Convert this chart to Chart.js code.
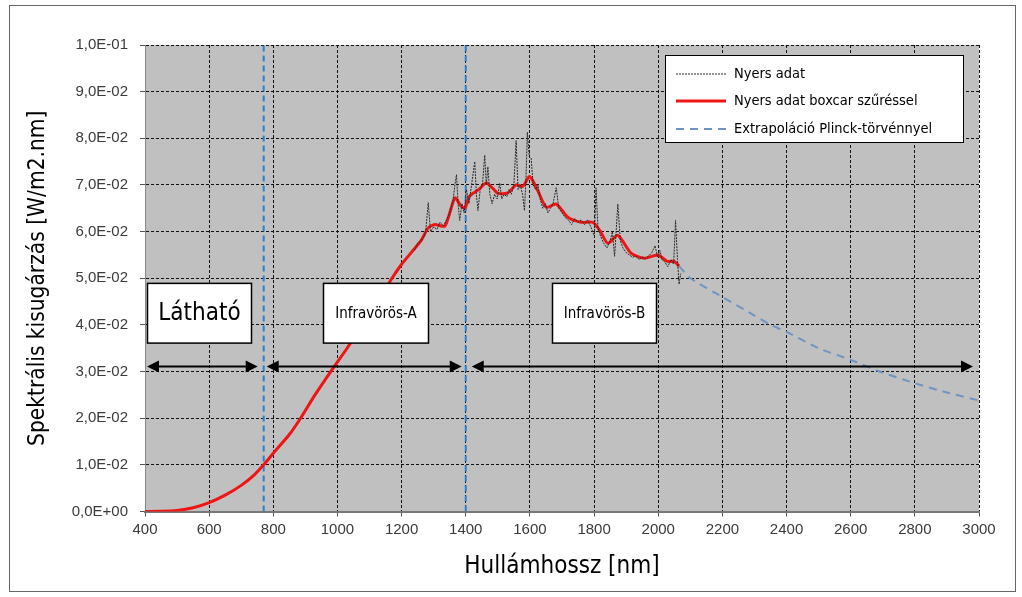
<!DOCTYPE html>
<html>
<head>
<meta charset="utf-8">
<script src="https://cdn.jsdelivr.net/npm/chart.js@4/dist/chart.umd.min.js"></script>
<style>
html,body{margin:0;padding:0;background:#fff;}
#wrap{position:relative;width:1022px;height:597px;}
</style>
</head>
<body>
<div id="wrap"><canvas id="c" width="1022" height="597"></canvas></div>
<script>
// ---- data ----
const rawNm = [1240,1250,1260,1270,1275,1283,1290,1300,1310,1320,1330,1340,1350,1360,1366,1371,1376,1381,1388,1395,1402,1410,1418,1428,1433,1438,1445,1452,1459,1464,1469,1475,1482,1490,1498,1506,1512,1520,1528,1535,1542,1550,1557,1563,1570,1577,1583,1588,1592,1598,1604,1610,1618,1625,1632,1640,1648,1656,1664,1672,1682,1690,1700,1710,1720,1730,1740,1750,1760,1770,1780,1790,1801,1806,1812,1820,1830,1840,1850,1857,1864,1874,1882,1890,1900,1910,1920,1930,1940,1950,1960,1970,1980,1990,1998,2005,2012,2020,2030,2040,2048,2054,2060,2065,2070];
const rawVal = [0.0560,0.0575,0.0580,0.0590,0.0600,0.0662,0.0600,0.0610,0.0605,0.0620,0.0612,0.0625,0.0640,0.0665,0.0700,0.0722,0.0660,0.0624,0.0660,0.0640,0.0690,0.0660,0.0700,0.0750,0.0680,0.0645,0.0690,0.0700,0.0764,0.0700,0.0739,0.0680,0.0660,0.0680,0.0670,0.0704,0.0670,0.0680,0.0675,0.0690,0.0680,0.0700,0.0795,0.0690,0.0700,0.0680,0.0645,0.0720,0.0813,0.0760,0.0757,0.0700,0.0690,0.0700,0.0670,0.0650,0.0660,0.0640,0.0650,0.0660,0.0694,0.0650,0.0640,0.0630,0.0625,0.0615,0.0628,0.0620,0.0625,0.0615,0.0625,0.0610,0.0590,0.0694,0.0610,0.0590,0.0575,0.0565,0.0580,0.0600,0.0547,0.0659,0.0580,0.0565,0.0555,0.0550,0.0545,0.0548,0.0540,0.0545,0.0542,0.0548,0.0555,0.0570,0.0545,0.0560,0.0540,0.0535,0.0525,0.0540,0.0530,0.0624,0.0540,0.0487,0.0510];

const smoothNm = [400,450,500,550,600,650,700,740,770,800,850,885,930,979,1030,1078,1125,1170,1200,1230,1260,1283,1304,1335,1366,1385,1397,1412,1440,1464,1485,1500,1531,1557,1578,1599,1625,1651,1682,1718,1759,1796,1820,1843,1874,1915,1956,1998,2029,2050,2065];
const smoothVal = [0,0.00003,0.0002,0.0008,0.0019,0.0035,0.0056,0.0078,0.0100,0.0125,0.0165,0.0200,0.0250,0.0300,0.0350,0.0400,0.0450,0.0500,0.0530,0.0555,0.0580,0.0608,0.0615,0.0612,0.0672,0.0655,0.0650,0.0676,0.0690,0.0704,0.0692,0.0682,0.0683,0.0700,0.0697,0.0718,0.0687,0.0652,0.0659,0.0631,0.0620,0.0620,0.0600,0.0575,0.0592,0.0554,0.0543,0.0550,0.0536,0.0536,0.0526];

const extrapNm = [2065,2100,2200,2300,2350,2400,2500,2600,2690,2800,2900,3000];
const extrapVal = [0.0526,0.0500,0.0460,0.0420,0.0400,0.0385,0.0350,0.0325,0.0300,0.0275,0.0255,0.0238];

const seriesNames = ['Nyers adat','Nyers adat boxcar szűréssel','Extrapoláció Plinck-törvénnyel'];
const regionBounds = [400, 770, 1400, 3000];   // nm
const regionLabels = ['Látható','Infravörös-A','Infravörös-B'];
const arrowLevel = 0.0312;
const xTicks = [400,600,800,1000,1200,1400,1600,1800,2000,2200,2400,2600,2800,3000];
const yTickLabels = ['0,0E+00','1,0E-02','2,0E-02','3,0E-02','4,0E-02','5,0E-02','6,0E-02','7,0E-02','8,0E-02','9,0E-02','1,0E-01'];
const xTitle = 'Hullámhossz [nm]';
const yTitle = 'Spektrális kisugárzás [W/m2.nm]';

const pts = (xs, ys) => xs.map((x, i) => ({x: x, y: ys[i]}));

// ---- plugin: background, boxes, arrows, legend, frame ----
const COND = "'DejaVu Sans Condensed','Liberation Sans Narrow','DejaVu Sans',sans-serif";
const boxes = [
  {x0: 406, x1: 730, font: '24px ' + COND},
  {x0: 954, x1: 1281, font: '15px ' + COND},
  {x0: 1669, x1: 1993, font: '15px ' + COND}
];
const deco = {
  id: 'deco',
  beforeDraw(chart) {
    const {ctx, chartArea: a} = chart;
    ctx.save();
    ctx.fillStyle = '#fff';
    ctx.fillRect(0, 0, chart.width, chart.height);
    ctx.fillStyle = '#c0c0c0';
    ctx.fillRect(a.left, a.top, a.right - a.left, a.bottom - a.top);
    ctx.strokeStyle = '#666';
    ctx.lineWidth = 1;
    ctx.strokeRect(9.5, 5.5, 1006, 586);
    ctx.restore();
  },
  afterDatasetsDraw(chart) {
    const {ctx, scales: {x, y}} = chart;
    ctx.save();
    const by0 = y.getPixelForValue(0.0489), by1 = y.getPixelForValue(0.0361);
    boxes.forEach((b, i) => {
      const px0 = Math.round(x.getPixelForValue(b.x0)) + 0.5, px1 = Math.round(x.getPixelForValue(b.x1)) + 0.5;
      ctx.fillStyle = '#fff';
      ctx.fillRect(px0, by0, px1 - px0, by1 - by0);
      ctx.strokeStyle = '#000';
      ctx.lineWidth = 1.5;
      ctx.strokeRect(px0, by0, px1 - px0, by1 - by0);
      ctx.fillStyle = '#000';
      ctx.font = b.font;
      ctx.textAlign = 'center';
      ctx.textBaseline = 'middle';
      ctx.fillText(regionLabels[i], (px0 + px1) / 2, (by0 + by1) / 2 + 1);
    });
    const ay = Math.round(y.getPixelForValue(arrowLevel)) + 0.5;
    const insetL = [2, 3, 6], insetR = [6, 4, 6];
    for (let i = 0; i < regionBounds.length - 1; i++) {
      const l = x.getPixelForValue(regionBounds[i]) + insetL[i];
      const r = x.getPixelForValue(regionBounds[i + 1]) - insetR[i];
      ctx.strokeStyle = '#000';
      ctx.lineWidth = 2;
      ctx.beginPath();
      ctx.moveTo(l + 6, ay); ctx.lineTo(r - 6, ay); ctx.stroke();
      ctx.fillStyle = '#000';
      ctx.beginPath();
      ctx.moveTo(l, ay); ctx.lineTo(l + 12, ay - 6); ctx.lineTo(l + 12, ay + 6); ctx.closePath(); ctx.fill();
      ctx.beginPath();
      ctx.moveTo(r, ay); ctx.lineTo(r - 12, ay - 6); ctx.lineTo(r - 12, ay + 6); ctx.closePath(); ctx.fill();
    }
    ctx.restore();
  },
  afterDraw(chart) {
    const {ctx} = chart;
    ctx.save();
    const lx = 665.5, ly = 55.5, lw = 298, lh = 87;
    ctx.fillStyle = '#fff';
    ctx.fillRect(lx, ly, lw, lh);
    ctx.strokeStyle = '#000';
    ctx.lineWidth = 1;
    ctx.strokeRect(lx, ly, lw, lh);
    const rows = [74, 101, 129];
    const ds = chart.data.datasets;
    for (let i = 0; i < 3; i++) {
      const d = ds[i];
      ctx.strokeStyle = d.borderColor;
      ctx.lineWidth = d.borderWidth;
      ctx.setLineDash(i === 0 ? [2, 1] : (i === 2 ? [8, 6] : []));
      ctx.beginPath();
      ctx.moveTo(676, rows[i]); ctx.lineTo(726, rows[i]); ctx.stroke();
      ctx.setLineDash([]);
      ctx.fillStyle = '#000';
      ctx.font = "14.5px " + COND;
      ctx.textAlign = 'left';
      ctx.textBaseline = 'middle';
      ctx.fillText(seriesNames[i], 734, rows[i]);
    }
    ctx.restore();
  }
};

const tickFont = {family: "'Liberation Sans',Arial,sans-serif", size: 15};

new Chart(document.getElementById('c'), {
  type: 'line',
  data: {
    datasets: [
      {label: seriesNames[0], data: pts(rawNm, rawVal), borderColor: '#2a2a2a', borderWidth: 1, borderDash: [2, 1], pointRadius: 0, tension: 0},
      {label: seriesNames[1], data: pts(smoothNm, smoothVal), borderColor: '#f01414', borderWidth: 3, pointRadius: 0, tension: 0.25},
      {label: seriesNames[2], data: pts(extrapNm, extrapVal), borderColor: '#6f94c4', borderWidth: 2, borderDash: [8, 6], pointRadius: 0, tension: 0.2},
      {label: 'v1', data: [{x: regionBounds[1], y: 0}, {x: regionBounds[1], y: 0.1}], borderColor: '#2a7fd4', borderWidth: 2, borderDash: [6, 4], pointRadius: 0},
      {label: 'v2', data: [{x: regionBounds[2], y: 0}, {x: regionBounds[2], y: 0.1}], borderColor: '#2a7fd4', borderWidth: 2, borderDash: [6, 4], pointRadius: 0}
    ]
  },
  options: {
    responsive: false,
    animation: false,
    events: [],
    layout: {padding: {left: 0, top: 45, right: 43, bottom: 0}},
    plugins: {legend: {display: false}, tooltip: {enabled: false}},
    scales: {
      x: {
        type: 'linear', min: 400, max: 3000,
        afterBuildTicks: s => { s.ticks = xTicks.map(v => ({value: v})); },
        afterFit: s => { s.height = 85.5; },
        ticks: {font: tickFont, color: '#3a3a3a', padding: 4, maxRotation: 0, autoSkip: false, callback: (v) => String(v)},
        grid: {color: '#111', lineWidth: 1, tickLength: 5, tickColor: '#555'},
        border: {display: true, color: '#777', width: 2, dash: [3, 2]},
        title: {display: true, text: xTitle, color: '#000', font: {family: COND, size: 24}, padding: {top: 0, bottom: 16}}
      },
      y: {
        type: 'linear', min: 0, max: 0.1,
        afterBuildTicks: s => { s.ticks = yTickLabels.map((t, i) => ({value: i * 0.01})); },
        afterFit: s => { s.width = 145; },
        ticks: {font: tickFont, color: '#3a3a3a', padding: 12, callback: (v, i) => yTickLabels[i]},
        grid: {color: '#111', lineWidth: 1, tickLength: 5, tickColor: '#555'},
        border: {display: true, color: '#888', width: 1, dash: [3, 2]},
        title: {display: true, text: yTitle, color: '#000', font: {family: COND, size: 22.5}, padding: {top: 25, bottom: 0}}
      }
    }
  },
  plugins: [deco]
});
</script>
</body>
</html>
